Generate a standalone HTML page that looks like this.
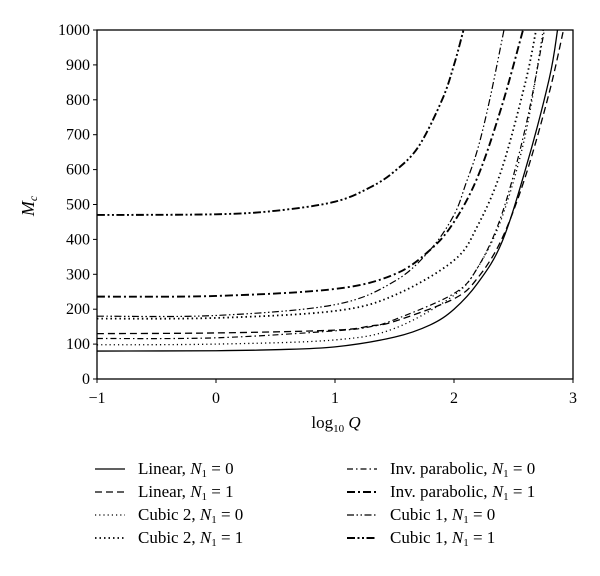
<!DOCTYPE html>
<html><head><meta charset="utf-8"><style>
body{margin:0;background:#fff}
svg{font-family:"Liberation Serif",serif}
</style></head><body>
<svg id="c" width="600" height="571" xmlns="http://www.w3.org/2000/svg"></svg>
<script>
const xTicks=[-1,0,1,2,3];
const yTicks=[0,100,200,300,400,500,600,700,800,900,1000];
const seriesNames=["Linear, N1 = 0","Linear, N1 = 1","Cubic 2, N1 = 0","Cubic 2, N1 = 1","Inv. parabolic, N1 = 0","Inv. parabolic, N1 = 1","Cubic 1, N1 = 0","Cubic 1, N1 = 1"];
const linear0X=[-1,0,0.5,1,1.5,1.8,2,2.2,2.4,2.6,2.8,2.87];
const linear0Y=[80,81,84,92,120,155,200,275,390,600,860,1000];
const linear1X=[-1,0,1,1.3,1.5,2,2.2,2.4,2.6,2.8,2.92];
const linear1Y=[130,132,140,152,165,230,290,400,580,820,1000];
const cubic2n0X=[-1,0,1,1.5,2,2.2,2.4,2.6,2.75];
const cubic2n0Y=[98,100,112,145,240,320,460,700,1000];
const cubic2n1X=[-1,0,1,1.5,2,2.2,2.4,2.6,2.69];
const cubic2n1Y=[173,175,195,240,340,440,600,850,1000];
const invpar0X=[-1,0,1,1.3,1.5,2,2.2,2.4,2.6,2.76];
const invpar0Y=[116,118,138,150,170,245,320,470,720,1000];
const invpar1X=[-1,0,1,1.5,1.8,2,2.2,2.4,2.58];
const invpar1Y=[236,238,258,300,370,450,580,780,1000];
const cubic1n0X=[-1,0,1,1.5,1.8,2,2.1,2.2,2.3,2.42];
const cubic1n0Y=[180,182,213,280,370,470,560,660,800,1000];
const cubic1n1X=[-1,0,0.5,1,1.3,1.5,1.7,1.9,2.0,2.08];
const cubic1n1Y=[470,472,482,508,550,595,665,800,900,1000];

const NS="http://www.w3.org/2000/svg";
const svg=document.getElementById('c');
const L=97,R=573,T=30,B=379;
const sx=v=>L+(v+1)/4*(R-L);
const sy=v=>B-v/1000*(B-T);
function mk(tag,at,parent){const e=document.createElementNS(NS,tag);for(const k in at)e.setAttribute(k,at[k]);(parent||svg).appendChild(e);return e;}
const styles=[
 {w:1.3,d:""},{w:1.3,d:"7 4"},{w:1.3,d:"1.2 3"},{w:1.8,d:"1.5 3"},
 {w:1.2,d:"6 3 1.5 3"},{w:1.9,d:"8 3 2 3"},{w:1.2,d:"7 2.5 1.5 2.5 1.5 2.5"},{w:1.9,d:"8 2.5 2 2.5 2 2.5"}];
const data=[[linear0X,linear0Y],[linear1X,linear1Y],[cubic2n0X,cubic2n0Y],[cubic2n1X,cubic2n1Y],[invpar0X,invpar0Y],[invpar1X,invpar1Y],[cubic1n0X,cubic1n0Y],[cubic1n1X,cubic1n1Y]];
const slugs=["linear-n0","linear-n1","cubic2-n0","cubic2-n1","invparabolic-n0","invparabolic-n1","cubic1-n0","cubic1-n1"];
function smooth(pts){let d="M"+pts[0][0]+","+pts[0][1];for(let i=0;i<pts.length-1;i++){const p0=pts[i-1]||pts[i],p1=pts[i],p2=pts[i+1],p3=pts[i+2]||p2;const c1=[p1[0]+(p2[0]-p0[0])/6,p1[1]+(p2[1]-p0[1])/6],c2=[p2[0]-(p3[0]-p1[0])/6,p2[1]-(p3[1]-p1[1])/6];d+=" C"+c1+" "+c2+" "+p2;}return d;}
const clip=mk('clipPath',{id:'pc'});mk('rect',{x:L,y:T,width:R-L,height:B-T},clip);
data.forEach((s,i)=>{const pts=s[0].map((x,j)=>[sx(x),sy(s[1][j])]);
 const p=mk('path',{d:smooth(pts),fill:"none",stroke:"#000","stroke-width":styles[i].w,"stroke-dasharray":styles[i].d,"clip-path":"url(#pc)"});
 
 });
const frame=mk('rect',{x:L,y:T,width:R-L,height:B-T,fill:"none",stroke:"#000","stroke-width":1.3});


xTicks.forEach(t=>{mk('line',{x1:sx(t),x2:sx(t),y1:B,y2:B+4,stroke:"#000"});
 const e=mk('text',{x:sx(t),y:B+24,"text-anchor":"middle","font-size":16});e.textContent=t<0?"\u2212"+(-t):t;
 
 });
yTicks.forEach(t=>{mk('line',{x1:L-4,x2:L,y1:sy(t),y2:sy(t),stroke:"#000"});
 const e=mk('text',{x:L-7,y:sy(t)+5,"text-anchor":"end","font-size":16});e.textContent=t;
 
 });
const xt=mk('text',{x:336,y:428,"text-anchor":"middle","font-size":17});
xt.innerHTML='log<tspan font-size="11" dy="4">10</tspan><tspan dy="-4" font-style="italic"> Q</tspan>';


const yt=mk('text',{x:0,y:0,"text-anchor":"middle","font-size":18,transform:"translate(34,206) rotate(-90)"});
yt.innerHTML='<tspan font-style="italic">M</tspan><tspan font-style="italic" font-size="12" dy="3">c</tspan>';


seriesNames.forEach((n,i)=>{const col=i<4?0:1,row=i%4;const x0=col?347:95,y=469+row*23;
 const g=mk('g',{});
 
 
 mk('line',{x1:x0,x2:x0+30,y1:y,y2:y,stroke:"#000","stroke-width":styles[i].w,"stroke-dasharray":styles[i].d},g);
 const parts=n.split("N1");
 const t=mk('text',{x:x0+43,y:y+5,"font-size":17},g);
 t.innerHTML=parts[0]+'<tspan font-style="italic">N</tspan><tspan font-size="11" dy="3">1</tspan><tspan dy="-3">'+parts[1]+'</tspan>';});
</script>
</body></html>
